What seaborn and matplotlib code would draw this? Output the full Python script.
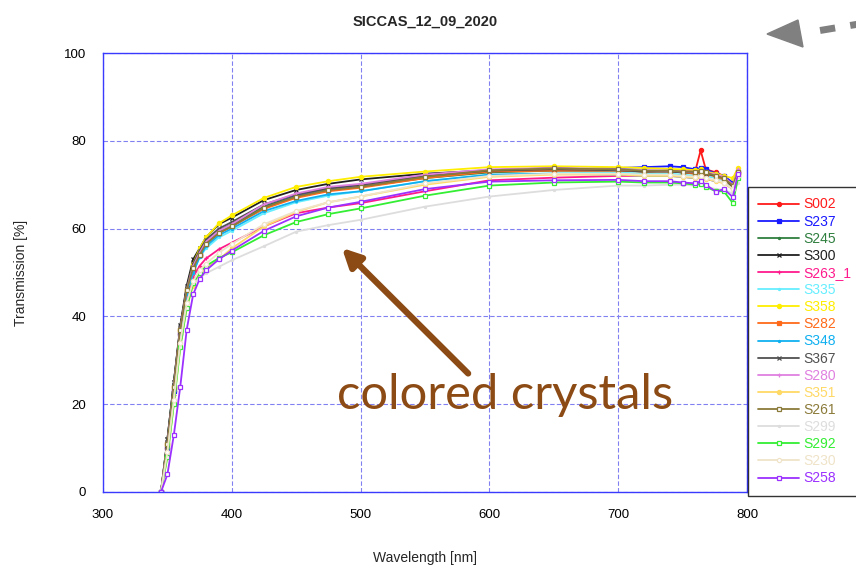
import matplotlib
matplotlib.use("Agg")
import matplotlib.pyplot as plt
from matplotlib.lines import Line2D
from matplotlib.patches import Polygon
import seaborn as sns
import pandas as pd

# Wavelength grid [nm] shared by all samples
WL = [345, 350, 355, 360, 365, 370, 375, 380, 390, 400, 425, 450, 475, 500,
      550, 600, 650, 700, 720, 740, 750, 760, 764, 768, 776, 782, 789, 793]

# Transmission [%] for each sample
S002 = [0, 10, 23, 36, 45, 50.5, 54, 56.5, 59, 60.5, 64.8, 67.2, 68.7, 69.6,
        71.7, 73.0, 73.3, 73.2, 73.0, 73.2, 73.0, 73.3, 77.8, 73.5, 72.8, 72.0, 70.0, 73.0]
S237 = [0, 10, 23, 36, 45, 50.5, 54, 56.5, 59.5, 61, 65, 67.5, 69, 70,
        72, 73.3, 73.5, 73.8, 74.0, 74.2, 74.0, 73.5, 73.8, 73.5, 72.5, 72.0, 70.5, 73.0]
S245 = [0, 12, 25, 37.5, 46.5, 52, 55, 57, 59.5, 61, 65, 67.3, 68.7, 69.5,
        71.5, 72.8, 73.2, 73.2, 73.0, 73.0, 72.8, 72.5, 72.6, 72.5, 72.0, 71.2, 69.5, 72.5]
S300 = [0, 12, 25, 38, 47, 53, 55.5, 58, 61, 62.5, 66.5, 68.8, 70.2, 71.2,
        72.5, 73.3, 73.8, 73.3, 73.0, 73.2, 72.8, 73.0, 73.0, 72.5, 72.2, 71.5, 69.5, 72.5]
S263_1 = [0, 9, 22, 35, 44, 49, 51.5, 53.2, 55.3, 56.8, 60.5, 63.5, 64.8, 65.8,
          68.5, 71.0, 71.6, 72.0, 72.0, 72.0, 71.8, 71.5, 71.6, 71.3, 70.8, 70.5, 69.0, 72.0]
S335 = [0, 10, 23, 36, 45, 50, 53.5, 55.5, 58, 59.5, 63.5, 66, 67.5, 68.5,
        70.8, 72.2, 72.6, 72.8, 72.5, 72.5, 72.3, 72.0, 72.2, 72.0, 71.5, 71.0, 69.5, 72.5]
S358 = [0, 11, 24, 37, 46, 52, 55.5, 58, 61.2, 63, 67, 69.5, 70.8, 71.8,
        73.0, 74.0, 74.2, 74.0, 73.8, 73.6, 73.5, 73.3, 73.5, 73.0, 72.5, 72.0, 71.5, 73.8]
S282 = [0, 11, 24, 37, 46, 51, 54, 56.5, 59, 60.5, 64.5, 67, 68.5, 69.3,
        71.5, 73.0, 73.2, 73.2, 73.0, 73.0, 72.8, 72.5, 72.8, 72.5, 71.8, 71.2, 69.5, 72.5]
S348 = [0, 10, 23, 36, 45, 50, 53.5, 56, 58.5, 60, 64, 66.3, 67.8, 68.5,
        70.8, 72.3, 72.5, 72.3, 72.0, 72.0, 71.8, 71.5, 71.7, 71.3, 70.8, 70.5, 69.0, 72.0]
S367 = [0, 12, 25, 37.5, 46.5, 52, 55, 57.5, 60, 61.5, 65.5, 67.8, 69.2, 70,
        72, 73.2, 73.5, 73.3, 73.0, 73.0, 72.8, 72.8, 73.0, 72.5, 72.0, 71.5, 69.5, 72.5]
S280 = [0, 11, 24, 37, 46, 51.5, 54.5, 57, 59.5, 61, 65.5, 68, 69.5, 70.2,
        72.3, 73.5, 73.8, 73.5, 73.3, 73.2, 73.0, 73.0, 73.2, 72.8, 72.3, 71.8, 70.0, 73.5]
S351 = [0, 8, 20, 33, 42, 47, 49.5, 51, 53, 55.5, 60.5, 63.8, 66, 67.3,
        70, 71.8, 72.3, 72.3, 72.0, 72.0, 71.8, 71.5, 71.6, 71.3, 70.8, 70.3, 69.0, 72.5]
S261 = [0, 11, 24, 37, 46, 51, 54, 56.5, 59, 60.5, 64.8, 67.3, 68.8, 69.5,
        71.8, 73.3, 73.7, 73.5, 73.2, 73.2, 73.0, 73.0, 73.2, 72.8, 72.0, 71.5, 69.8, 73.0]
S299 = [0, 9, 21, 34, 43, 47.5, 48.8, 49.8, 51.3, 52.8, 56, 59.3, 60.8, 62,
        65, 67.3, 68.8, 69.8, 69.8, 70.0, 70.0, 69.8, 70.3, 69.5, 69.0, 68.8, 68.0, 70.5]
S292 = [0, 8, 20, 33, 42, 47.5, 50, 51.5, 53.3, 54.6, 58.5, 61.5, 63.3, 64.6,
        67.5, 69.8, 70.5, 70.7, 70.5, 70.5, 70.3, 70.0, 70.2, 69.5, 68.5, 68.5, 65.8, 71.5]
S230 = [0, 9, 21, 34, 43, 48, 50.5, 52, 54.5, 56.5, 61, 64, 66, 67.3,
        70.3, 72, 72.5, 72.5, 72.3, 72.3, 72, 71.8, 72.0, 71.5, 71.0, 70.5, 69.0, 72.0]
S258 = [0, 4, 13, 24, 37, 45, 48.5, 50.5, 53, 55, 59.5, 62.8, 64.8, 66.1,
        69, 70.7, 71.0, 71.1, 70.8, 70.8, 70.5, 70.3, 70.8, 70.0, 68.4, 69.0, 67.2, 72.5]

SAMPLES = ["S002", "S237", "S245", "S300", "S263_1", "S335", "S358", "S282", "S348",
           "S367", "S280", "S351", "S261", "S299", "S292", "S230", "S258"]
VALUES = [S002, S237, S245, S300, S263_1, S335, S358, S282, S348,
          S367, S280, S351, S261, S299, S292, S230, S258]

COLORS = ["#ff1a1a", "#1a1aff", "#2f7f3f", "#202020", "#ff1a8c", "#66eeff", "#ffee00",
          "#ff6a1a", "#10b0f0", "#505050", "#e080e0", "#ffd966", "#8b7b3a", "#dddddd",
          "#33ee33", "#efe3c8", "#9b30ff"]
# (marker, filled)
MARKERS = [("o", True), ("s", True), (".", True), ("x", True), ("+", True), (".", True),
           ("o", True), ("s", True), (".", True), ("x", True), ("+", True), ("o", True),
           ("s", False), (".", True), ("s", False), ("o", False), ("s", False)]

sns.set_style("white")
plt.rcParams["font.family"] = ["Liberation Sans", "DejaVu Sans"]

fig = plt.figure(figsize=(8.56, 5.66), dpi=100)
ax = fig.add_axes([103 / 856, 1 - 492 / 566, (747 - 103) / 856, (492 - 53) / 566])

for name, vals, col, (mk, filled) in zip(SAMPLES, VALUES, COLORS, MARKERS):
    df = pd.DataFrame({"Wavelength": WL, "Transmission": vals})
    sns.lineplot(data=df, x="Wavelength", y="Transmission", ax=ax, color=col,
                 linewidth=1.3, marker=mk, markersize=3.0,
                 markerfacecolor=(col if filled else "white"),
                 markeredgecolor=col, markeredgewidth=0.9, label=name)

ax.set_xlim(300, 800)
ax.set_ylim(0, 100)
ax.set_xticks([300, 400, 500, 600, 700, 800])
ax.set_yticks([0, 20, 40, 60, 80, 100])
ax.grid(True, color="#8080f0", linestyle=(0, (4, 2)), linewidth=0.8)
for sp in ax.spines.values():
    sp.set_color("#3a3aff")
    sp.set_linewidth(1.0)
ax.tick_params(length=0, labelsize=9.5, pad=12, colors="black")
ax.set_xlabel("Wavelength [nm]", fontsize=10, labelpad=22)
ax.set_ylabel("Transmission [%]", fontsize=10, labelpad=26)
ax.set_title("SICCAS_12_09_2020", fontsize=10.5, fontweight="bold", pad=20)

leg = ax.legend(loc="upper left", bbox_to_anchor=(748 / 856, 1 - 187 / 566),
                bbox_transform=fig.transFigure, fontsize=10, frameon=True,
                fancybox=False, edgecolor="black", handlelength=2.9,
                labelspacing=0.225, borderpad=0.75, handletextpad=0.3,
                borderaxespad=0)
leg.get_frame().set_linewidth(1.0)
for txt, ln in zip(leg.get_texts(), leg.get_lines()):
    txt.set_color(ln.get_color())

# Annotation for the coloured samples
BROWN = "#8c4a14"
ax.annotate("", xy=(485.5, 55.6), xytext=(583.5, 27.0),
            arrowprops=dict(arrowstyle="-|>,head_length=1.1,head_width=0.55",
                        color=BROWN, lw=4.5, shrinkA=0, shrinkB=0))
ax.text(481.5, 18.9, "colored crystals", color=BROWN, fontsize=35.3,
        family="Lato", ha="left", va="baseline")

# Grey dashed pointer in the top-right corner
W, H = 856, 566
shaft = Line2D([805 / W, 871 / W], [(H - 33) / H, (H - 22) / H], transform=fig.transFigure,
               color="#808080", lw=5.0, linestyle=(2.2, (2.2, 2.2)))
fig.add_artist(shaft)
head = Polygon([[767 / W, (H - 34) / H], [798 / W, (H - 20) / H], [803 / W, (H - 47) / H]],
               closed=True, transform=fig.transFigure, color="#808080")
fig.add_artist(head)

fig.savefig("out.png", dpi=100)
